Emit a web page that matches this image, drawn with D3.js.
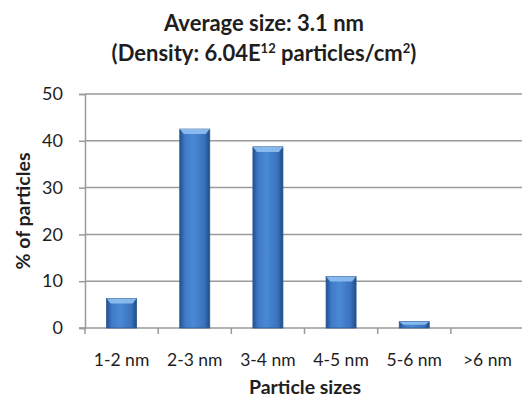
<!DOCTYPE html>
<html lang="en">
<head>
<meta charset="UTF-8">
<script src="https://d3js.org/d3.v7.min.js"></script>
<style>
  body { margin: 0; background: #fff; }
  svg text { font-family: Lato, "Open Sans", sans-serif; fill: #1e1e1e; }
</style>
</head>
<body>
<svg id="viz" width="522" height="401"></svg>
<script>
var categories = ["1-2 nm", "2-3 nm", "3-4 nm", "4-5 nm", "5-6 nm", ">6 nm"];
var values = [6.3, 42.5, 38.7, 11.0, 1.35, 0];
var yTicks = [0, 10, 20, 30, 40, 50];

var svg = d3.select("#viz");
var margin = {top: 94, right: -2, bottom: 73, left: 85};
var width = 522 - margin.left - margin.right;
var height = 401 - margin.top - margin.bottom;

var defs = svg.append("defs");
var grad = defs.append("linearGradient").attr("id", "barGrad")
    .attr("x1", "0").attr("x2", "1").attr("y1", "0").attr("y2", "0");
grad.append("stop").attr("offset", "0%").attr("stop-color", "#22508f");
grad.append("stop").attr("offset", "18%").attr("stop-color", "#3f7bc9");
grad.append("stop").attr("offset", "45%").attr("stop-color", "#4a89d6");
grad.append("stop").attr("offset", "82%").attr("stop-color", "#3a72bd");
grad.append("stop").attr("offset", "100%").attr("stop-color", "#1f4c88");

var g = svg.append("g").attr("transform", "translate(" + margin.left + "," + margin.top + ")");

var x = d3.scaleBand().domain(categories).range([0, width]).paddingInner(0.59).paddingOuter(0.295);
var xb = d3.scaleBand().domain(categories).range([0, width]);
var y = d3.scaleLinear().domain([0, 50]).range([height, 0]);

// gridlines
g.selectAll(".grid").data(yTicks.slice(1)).enter().append("line")
    .attr("x1", 0).attr("x2", width)
    .attr("y1", function(d) { return y(d); }).attr("y2", function(d) { return y(d); })
    .attr("stroke", "#9a9a9a").attr("stroke-width", 1.5);

// y axis
var yAxis = g.append("g").call(d3.axisLeft(y).tickValues(yTicks).tickSize(6).tickPadding(16));
yAxis.select(".domain").attr("stroke", "#9a9a9a").attr("stroke-width", 1.5);
yAxis.selectAll(".tick line").attr("stroke", "#9a9a9a").attr("stroke-width", 1.5);
yAxis.selectAll("text").attr("font-size", 18).attr("fill", "#404040")
    .style("font-family", "Lato, sans-serif");

// x axis
var xAxisG = g.append("g").attr("transform", "translate(0," + height + ")");
xAxisG.append("line").attr("x1", -6).attr("x2", width).attr("stroke", "#9a9a9a").attr("stroke-width", 1.5);
xAxisG.selectAll(".xt").data(categories).enter().append("line")
    .attr("x1", function(d) { return xb(d); }).attr("x2", function(d) { return xb(d); })
    .attr("y1", 0).attr("y2", 6)
    .attr("stroke", "#9a9a9a").attr("stroke-width", 1.5);
xAxisG.selectAll(".xl").data(categories).enter().append("text")
    .attr("x", function(d) { return xb(d) + xb.bandwidth() / 2; })
    .attr("y", 38)
    .attr("text-anchor", "middle")
    .attr("font-size", 17.5)
    .attr("fill", "#404040")
    .text(function(d) { return d; });

// bars
var bars = g.selectAll(".bar").data(values.map(function(v, i) { return {c: categories[i], v: v}; }))
    .enter().append("g").filter(function(d) { return d.v > 0; });
bars.append("rect")
    .attr("x", function(d) { return x(d.c); })
    .attr("y", function(d) { return y(d.v); })
    .attr("width", x.bandwidth())
    .attr("height", function(d) { return height - y(d.v); })
    .attr("fill", "url(#barGrad)")
    .attr("stroke", "#2b5690").attr("stroke-width", 0.8);
bars.append("path")
    .attr("d", function(d) {
        var x0 = x(d.c), w = x.bandwidth(), t = y(d.v);
        var b = Math.min(5, (height - t) / 2);
        return "M" + x0 + "," + t + "H" + (x0 + w) + "L" + (x0 + w - 4) + "," + (t + b) +
               "H" + (x0 + 4) + "Z";
    })
    .attr("fill", "#8fc0f2").attr("opacity", 0.9);

// titles
svg.append("text").attr("x", 264).attr("y", 31).attr("text-anchor", "middle")
    .attr("font-size", 22).attr("font-weight", "bold").text("Average size: 3.1 nm");
var t2 = svg.append("text").attr("x", 264).attr("y", 61).attr("text-anchor", "middle")
    .attr("font-size", 22).attr("font-weight", "bold");
t2.append("tspan").text("(Density: 6.04E");
t2.append("tspan").attr("font-size", 13).attr("dy", -8).text("12");
t2.append("tspan").attr("dy", 8).text(" particles/cm");
t2.append("tspan").attr("font-size", 13).attr("dy", -8).text("2");
t2.append("tspan").attr("dy", 8).text(")");

svg.append("text").attr("x", 305).attr("y", 394).attr("text-anchor", "middle")
    .attr("font-size", 19.5).attr("font-weight", "bold").text("Particle sizes");
svg.append("text").attr("transform", "translate(30,211) rotate(-90)").attr("text-anchor", "middle")
    .attr("font-size", 19.5).attr("font-weight", "bold").text("% of particles");
</script>
</body>
</html>
